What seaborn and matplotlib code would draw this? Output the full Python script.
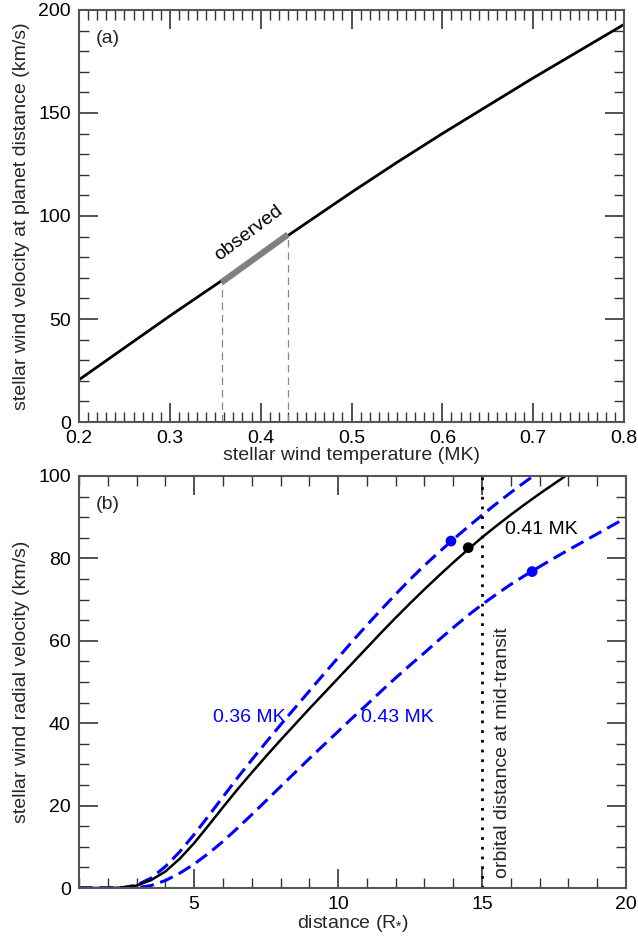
import matplotlib
matplotlib.use("Agg")
import matplotlib.pyplot as plt
import numpy as np
import pandas as pd
import seaborn as sns
from matplotlib.ticker import MultipleLocator

sns.set_theme(style="ticks")
plt.rcParams["font.family"] = ["Liberation Sans", "DejaVu Sans"]
plt.rcParams["mathtext.fontset"] = "custom"
plt.rcParams["mathtext.rm"] = "Liberation Sans"
plt.rcParams["mathtext.it"] = "Liberation Sans"

# ---- panel (a): wind speed at planet vs temperature ----
temp_mk = [0.20, 0.25, 0.30, 0.35, 0.40, 0.45, 0.50, 0.55, 0.60, 0.65, 0.70, 0.75, 0.80]
vel_planet = [20.5, 36, 51.5, 66.5, 81.5, 96.5, 111.5, 126, 140, 153.5, 167, 180, 193]
obs_temp = [0.357, 0.43]
obs_vel = [67.8, 91.0]

# ---- panel (b): radial velocity profiles ----
dist = [1, 2, 2.5, 3, 3.5, 4, 4.5, 5, 5.5, 6, 6.5, 7, 7.5, 8, 8.5, 9, 9.5,
        10, 10.5, 11, 11.5, 12, 12.5, 13, 13.5, 14, 14.5, 15, 15.5, 16, 16.5,
        17, 17.5, 18, 18.5, 19, 19.5, 20]
vel_041 = [0, 0, 0.1, 0.6, 1.9, 4.0, 7.1, 10.9, 15.2, 19.6, 23.9, 28.0, 32.0, 35.9, 39.7, 43.5, 47.2,
           50.9, 54.6, 58.3, 62.0, 65.6, 69.1, 72.5, 75.8, 79, 82.1, 85.1, 87.9, 90.6, 93.2,
           95.7, 98.1, 100.5, 102.8, 105.1, 107.3, 109.5]
vel_036 = [0, 0, 0.1, 0.7, 2.4, 5.2, 8.8, 13.0, 17.5, 22.1, 26.7, 31.1, 35.4, 39.6, 43.7, 47.8, 51.9,
           55.9, 59.9, 63.8, 67.6, 71.3, 74.9, 78.3, 81.5, 84.6, 87.6, 90.5, 93.3, 96, 98.6,
           101.1, 103.5, 105.9, 108.2, 110.4, 112.6, 114.8]
vel_043 = [0, 0, 0, 0.05, 0.6, 1.8, 3.6, 5.8, 8.4, 11.3, 14.5, 17.8, 21.2, 24.6, 28, 31.4, 34.7,
           38, 41.3, 44.5, 47.8, 51, 54.1, 57.1, 60.2, 63.2, 66.1, 68.8, 71.3, 73.7, 75.9,
           78, 80.05, 82.05, 84, 85.95, 87.9, 89.85]
mark_d = [14.52, 13.92, 16.74]
mark_v = [82.6, 84.2, 76.8]
mark_c = ["black", "blue", "blue"]
orbit_d = 15.0

fig = plt.figure(figsize=(6.38, 9.38), dpi=100)
ax1 = fig.add_axes([79 / 638, 1 - 422 / 938, 545 / 638, 412 / 938])
ax2 = fig.add_axes([79 / 638, 1 - 888 / 938, 547 / 638, 412 / 938])

fs = 14
spine_col = "#555555"

# panel (a)
df_a = pd.DataFrame({"T": temp_mk, "v": vel_planet})
sns.lineplot(data=df_a, x="T", y="v", ax=ax1, color="black", lw=2.0)
sns.lineplot(x=obs_temp, y=obs_vel, ax=ax1, color="#808080", lw=4.5,
             solid_capstyle="butt")
for t, v in zip(obs_temp, obs_vel):
    ax1.plot([t, t], [0, v], color="#888888", lw=0.9, ls=(0, (6, 4)))
ax1.text(0.392, 88.5, "observed", rotation=37, rotation_mode="anchor",
         ha="center", va="bottom", fontsize=fs, color="black")
ax1.text(0.03, 0.93, "(a)", transform=ax1.transAxes, fontsize=fs,
         ha="left", va="center")
ax1.set_xlim(0.2, 0.8)
ax1.set_ylim(0, 200)
ax1.xaxis.set_major_locator(MultipleLocator(0.1))
ax1.xaxis.set_minor_locator(MultipleLocator(0.01))
ax1.yaxis.set_major_locator(MultipleLocator(50))
ax1.yaxis.set_minor_locator(MultipleLocator(10))
ax1.set_xlabel("stellar wind temperature (MK)", fontsize=fs, labelpad=0)
ax1.set_ylabel("stellar wind velocity at planet distance (km/s)", fontsize=fs, labelpad=6)

# panel (b)
df_b = pd.DataFrame({"d": dist, "v41": vel_041, "v36": vel_036, "v43": vel_043})
sns.lineplot(data=df_b, x="d", y="v36", ax=ax2, color="blue", lw=2.2,
             linestyle=(0, (4.5, 2.2)))
sns.lineplot(data=df_b, x="d", y="v43", ax=ax2, color="blue", lw=2.2,
             linestyle=(0, (4.5, 2.2)))
sns.lineplot(data=df_b, x="d", y="v41", ax=ax2, color="black", lw=1.8)
ax2.axvline(orbit_d, color="black", lw=2.0, ls=(0, (1, 2.5)))
sns.scatterplot(x=mark_d, y=mark_v, ax=ax2, hue=mark_c, palette={"black": "black", "blue": "blue"},
                s=60, edgecolor="none", legend=False, zorder=5)
ax2.text(15.8, 86.9, "0.41 MK", fontsize=fs, color="black", ha="left", va="center")
ax2.text(5.65, 41.5, "0.36 MK", fontsize=fs, color="blue", ha="left", va="center")
ax2.text(10.8, 41.5, "0.43 MK", fontsize=fs, color="blue", ha="left", va="center")
ax2.text(15.72, 2.4, "orbital distance at mid-transit", rotation=90, fontsize=fs,
         ha="center", va="bottom")
ax2.text(0.03, 0.93, "(b)", transform=ax2.transAxes, fontsize=fs,
         ha="left", va="center")
ax2.set_xlim(1, 20)
ax2.set_ylim(0, 100)
ax2.xaxis.set_major_locator(MultipleLocator(5))
ax2.xaxis.set_minor_locator(MultipleLocator(1))
ax2.yaxis.set_major_locator(MultipleLocator(20))
ax2.yaxis.set_minor_locator(MultipleLocator(5))
ax2.set_xlabel(r"distance (R$_{*}$)", fontsize=fs, labelpad=0)
ax2.set_ylabel("stellar wind radial velocity (km/s)", fontsize=fs, labelpad=6)

for ax in (ax1, ax2):
    for s in ax.spines.values():
        s.set_color(spine_col)
        s.set_linewidth(1.5)
    ax.tick_params(which="both", direction="in", top=True, right=True,
                   colors="#333333", labelcolor="black", labelsize=fs, pad=6)
    ax.tick_params(which="major", length=14, width=1.2)
    ax.tick_params(which="minor", length=7, width=1.0)
    ax.grid(False)

fig.savefig("out.png", dpi=100)
